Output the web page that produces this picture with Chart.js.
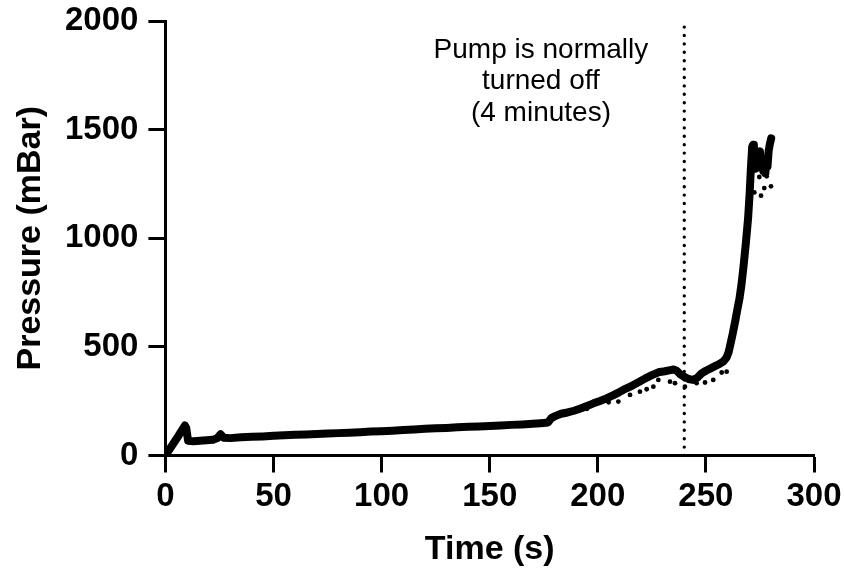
<!DOCTYPE html>
<html lang="en">
<head>
<meta charset="UTF-8">
<title>Pressure vs time</title>
<style>
  html, body { margin: 0; padding: 0; background: #fff; }
  #wrap { width: 844px; height: 574px; }
</style>
</head>
<body>
<div id="wrap"><canvas id="grafico" width="844" height="574"></canvas></div>

<script src="https://cdn.jsdelivr.net/npm/chart.js"></script>
<script>
// main trace (dense band of samples)
const timeS = [0, 3, 6, 9, 9.6, 10.5, 13, 16, 19, 22, 24, 25.5, 27, 30, 35, 40, 45, 50, 55, 60,
  65, 70, 75, 80, 85, 90, 95, 100, 105, 110, 115, 120, 125, 130, 135, 140, 145, 150, 155, 160,
  165, 170, 175, 177, 178.5, 180, 183, 186, 189, 192, 195, 198, 201, 204, 207, 210, 213, 216, 219, 222,
  225, 228, 231, 233, 235, 236.5, 238, 240, 242, 244, 246, 248, 250, 252, 254, 256, 258, 259.5, 260.5, 261.5,
  262.5, 263.5, 264.5, 265.5, 266.5, 267.5, 268.5, 269.5, 270.2, 270.8, 271.4, 271.8, 272.2, 272.6, 273, 273.5, 274, 274.5, 275, 275.5,
  276, 276.5, 277, 277.5, 278, 278.5, 279, 279.5, 280.2];
const pressure = [0, 45, 90, 138, 128, 68, 66, 68, 70, 72, 80, 98, 82, 80, 84, 86, 88, 91, 93, 95,
  97, 99, 101, 103, 105, 107, 110, 112, 114, 117, 120, 123, 125, 127, 130, 132, 134, 136, 138, 141,
  143, 146, 150, 152, 172, 180, 192, 198, 206, 216, 228, 240, 251, 263, 277, 292, 308, 322, 338, 355,
  370, 383, 388, 392, 396, 390, 375, 362, 352, 348, 358, 378, 390, 400, 410, 420, 432, 450, 475, 520,
  565, 615, 670, 720, 790, 880, 980, 1090, 1200, 1320, 1420, 1430, 1340, 1400, 1320, 1380, 1340, 1390, 1400, 1330,
  1370, 1310, 1350, 1300, 1360, 1330, 1400, 1430, 1460];

// stray samples below the band
const strayT = [195, 205, 209.5, 214.9, 219.5, 222.6, 225.7, 228, 233.4, 235.7, 240.3, 245.7, 249.6, 253.4, 257.3, 259.6,
  272.4, 274.7, 275.5, 277, 278.1, 280.1];
const strayP = [215, 245, 248, 279, 294, 305, 317, 348, 340, 333, 317, 333, 336, 348, 382, 386,
  1211, 1282, 1196, 1231, 1285, 1239];

const pumpOffT = 240;
const noteLines = ['Pump is normally', 'turned off', '(4 minutes)'];
const xTicks = [0, 50, 100, 150, 200, 250, 300];
const yTicks = [0, 500, 1000, 1500, 2000];

const mainPts = timeS.map((t, i) => ({ x: t, y: pressure[i] }));
const strayPts = strayT.map((t, i) => ({ x: t, y: strayP[i] }));

const notePlugin = {
  id: 'note',
  afterDatasetsDraw(chart) {
    const ctx = chart.ctx;
    const x = chart.scales.x.getPixelForValue(173.7);
    const y0 = chart.scales.y.getPixelForValue(1830);
    ctx.save();
    ctx.fillStyle = '#000';
    ctx.font = '28px "Liberation Sans", Arial, sans-serif';
    ctx.textAlign = 'center';
    ctx.textBaseline = 'alphabetic';
    noteLines.forEach((s, i) => ctx.fillText(s, x, y0 + i * 31.5));
    ctx.restore();
  }
};

const tickFont = { family: '"Liberation Sans", Arial, sans-serif', size: 33, weight: 'bold' };
const titleFont = { family: '"Liberation Sans", Arial, sans-serif', size: 34, weight: 'bold' };

new Chart(document.getElementById('grafico').getContext('2d'), {
  type: 'scatter',
  data: {
    datasets: [
      {
        data: mainPts,
        showLine: true,
        borderColor: '#000',
        borderWidth: 8,
        borderJoinStyle: 'round',
        borderCapStyle: 'round',
        pointRadius: 0,
        tension: 0
      },
      {
        data: strayPts,
        pointRadius: 2.4,
        pointBackgroundColor: '#000',
        pointBorderWidth: 0
      },
      {
        data: [{ x: pumpOffT, y: 0 }, { x: pumpOffT, y: 2000 }],
        showLine: true,
        borderColor: '#000',
        borderWidth: 3.4,
        borderDash: [0, 8.4],
        borderCapStyle: 'round',
        pointRadius: 0
      }
    ]
  },
  options: {
    responsive: false,
    animation: false,
    layout: { padding: { left: 0, right: 30, top: 21, bottom: 0 } },
    plugins: { legend: { display: false }, tooltip: { enabled: false } },
    scales: {
      x: {
        type: 'linear',
        min: 0,
        max: 300,
        afterBuildTicks: s => { s.ticks = xTicks.map(v => ({ value: v })); },
        afterFit: s => { s.height = 118.5; s.paddingLeft = 0; s.paddingRight = 0; },
        grid: { drawOnChartArea: false, drawTicks: true, tickLength: 17, tickWidth: 3, tickColor: '#000' },
        border: { display: true, color: '#000', width: 3 },
        ticks: { color: '#000', font: tickFont, padding: 5, maxRotation: 0, callback: v => String(v) },
        title: { display: true, text: 'Time (s)', color: '#000', font: titleFont, padding: { top: 0, bottom: 4 } }
      },
      y: {
        min: 0,
        max: 2000,
        afterBuildTicks: s => { s.ticks = yTicks.map(v => ({ value: v })); },
        afterFit: s => { s.width = 165.4; s.paddingTop = 0; s.paddingBottom = 0; },
        grid: { drawOnChartArea: false, drawTicks: true, tickLength: 17, tickWidth: 3, tickColor: '#000' },
        border: { display: true, color: '#000', width: 3 },
        ticks: { color: '#000', font: tickFont, padding: 10, callback: v => String(v) },
        title: { display: true, text: 'Pressure (mBar)', color: '#000', font: titleFont, padding: { top: 10, bottom: 0 } }
      }
    }
  },
  plugins: [notePlugin]
});
</script>
</body>
</html>
